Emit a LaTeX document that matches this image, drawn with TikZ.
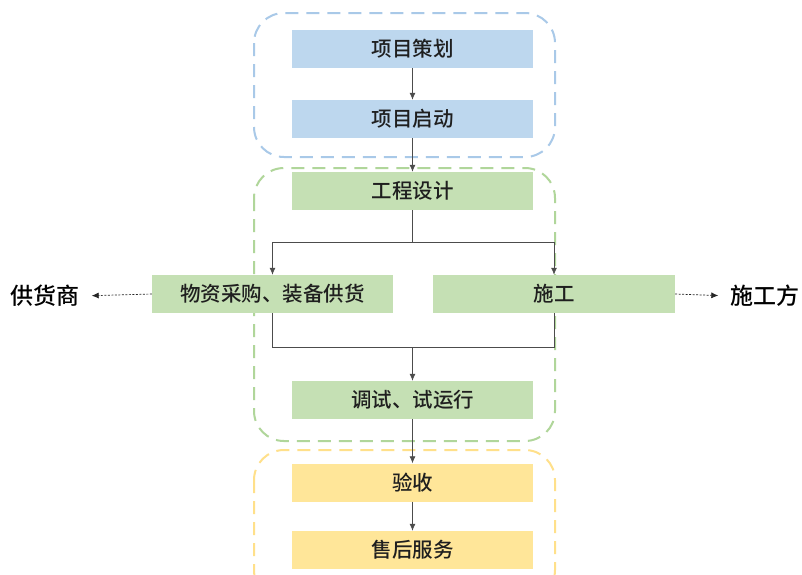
\documentclass[tikz,border=0pt]{standalone}
\usepackage{fontspec}
\newfontfamily\cjk[UprightFont=* Medium, BoldFont=* Bold]{Noto Sans CJK SC}
\usetikzlibrary{arrows.meta}
\definecolor{bfill}{HTML}{BDD7EE}
\definecolor{gfill}{HTML}{C5E0B4}
\definecolor{yfill}{HTML}{FFE699}
\definecolor{bline}{HTML}{A9C9E8}
\definecolor{gline}{HTML}{B0D69A}
\definecolor{yline}{HTML}{FFE08A}
\definecolor{txt}{HTML}{1F1F1F}
\tikzset{
  stepbox/.style={rectangle, minimum width=241pt, minimum height=38pt, inner sep=0pt,
    font=\cjk\fontsize{20.5pt}{23pt}\selectfont, text=txt},
  outer/.style={font=\cjk\fontsize{23pt}{26pt}\selectfont, text=black, inner sep=0pt},
  grp/.style={line width=2pt, dash pattern=on 13pt off 8pt, rounded corners=30pt},
  conn/.style={draw=black!70, line width=0.8pt},
  arr/.style={conn, -{Latex[length=7pt,width=6pt]}},
  darr/.style={draw=black!85, line width=0.7pt, dash pattern=on 2pt off 1.5pt, -{Latex[length=7pt,width=6pt]}}
}
\begin{document}
\begin{tikzpicture}[x=1pt,y=-1pt]
\useasboundingbox (0,0) rectangle (802,574);
\clip (0,0) rectangle (802,574);
\fill[white] (0,0) rectangle (802,574);
% groups
\draw[grp, draw=bline] (254,13) rectangle (555,157);
\draw[grp, draw=gline] (254,168) rectangle (555,441);
\draw[grp, draw=yline] (254,450) rectangle (555,600);
% boxes
\node[stepbox, fill=bfill] (plan) at (412.5,49) {项目策划};
\node[stepbox, fill=bfill] (start) at (412.5,119) {项目启动};
\node[stepbox, fill=gfill] (design) at (412.5,191) {工程设计};
\node[stepbox, fill=gfill] (buy) at (272.5,294) {物资采购、装备供货};
\node[stepbox, fill=gfill, minimum width=242pt] (build) at (554,294) {施工};
\node[stepbox, fill=gfill] (test) at (412.5,400) {调试、试运行};
\node[stepbox, fill=yfill] (accept) at (412.5,482.5) {验收};
\node[stepbox, fill=yfill] (service) at (412.5,550) {售后服务};
\node[outer] (sup) at (45,296) {供货商};
\node[outer] (con) at (765,296) {施工方};
\coordinate (split) at (412.5,242);
\coordinate (merge) at (412.5,347);
% connectors
\draw[arr] (plan.south) -- (start.north);
\draw[arr] (start.south) -- (design.north);
\draw[conn] (design.south) -- (split);
\draw[arr] (split) -| (buy.north);
\draw[arr] (split) -| (build.north);
\draw[conn] (buy.south) |- (merge);
\draw[conn] (build.south) |- (merge);
\draw[arr] (merge) -- (test.north);
\draw[arr] (test.south) -- (accept.north);
\draw[arr] (accept.south) -- (service.north);
\draw[darr, shorten >=12pt] (buy.west) -- (sup.east);
\draw[darr, shorten >=12pt] (build.east) -- (con.west);
\end{tikzpicture}
\end{document}
